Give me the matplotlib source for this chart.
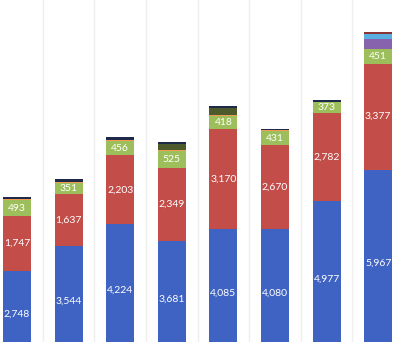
import matplotlib.pyplot as plt

# stacked series, bottom to top
blue = [2748, 3544, 4224, 3681, 4085, 4080, 4977, 5967]
red = [1747, 1637, 2203, 2349, 3170, 2670, 2782, 3377]
green = [493, 351, 456, 525, 418, 431, 373, 451]
orange_a = [40, 50, 40, 40, 40, 40, 0, 0]
olive = [0, 0, 0, 200, 230, 0, 0, 0]
purple = [0, 0, 0, 0, 0, 0, 0, 330]
aqua = [0, 0, 0, 0, 0, 0, 0, 160]
darkred = [0, 0, 0, 0, 0, 0, 0, 60]
navy = [80, 90, 70, 60, 50, 30, 50, 0]

series = [
    (blue, "#3f63c3", True),
    (red, "#c24d49", True),
    (green, "#9dbf5b", True),
    (orange_a, "#f09a52", False),
    (olive, "#4c5a2c", False),
    (purple, "#8763ae", False),
    (aqua, "#5aaee0", False),
    (darkred, "#8a3434", False),
    (navy, "#1f2a48", False),
]

fig = plt.figure(figsize=(4.04, 3.42), dpi=100)
ax = fig.add_axes([0, 0, 1, 1])

x = list(range(len(blue)))
bottom = [0] * len(blue)
for vals, color, labelled in series:
    ax.bar(x, vals, width=0.54, bottom=bottom, color=color, edgecolor="none")
    if labelled:
        for i, v in enumerate(vals):
            ax.text(i, bottom[i] + v / 2, f"{v:,}", ha="center", va="center",
                    color="white", fontsize=7.5, family=["Lato", "DejaVu Sans"])
    bottom = [b + v for b, v in zip(bottom, vals)]

# faint separators between categories
for i in range(len(blue) - 1):
    ax.axvline(i + 0.5, color="#efefef", linewidth=1, zorder=0)

# baseline sits just below the visible area
ax.set_xlim(-0.33, 7.5)
ax.set_ylim(478, 11368)
ax.axis("off")

fig.savefig("out.png", dpi=100)
